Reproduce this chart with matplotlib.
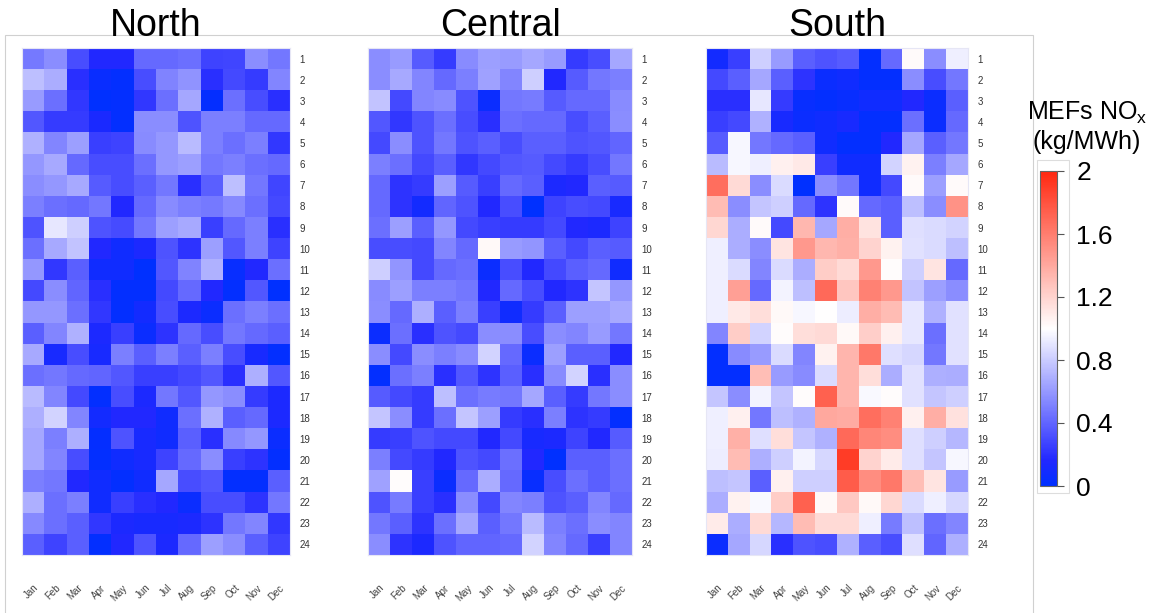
import matplotlib
matplotlib.use("Agg")
import matplotlib.pyplot as plt
from matplotlib.colors import LinearSegmentedColormap
from matplotlib.patches import Rectangle
import numpy as np

months = ["Jan", "Feb", "Mar", "Apr", "May", "Jun", "Jul", "Aug", "Sep", "Oct", "Nov", "Dec"]
hours = [str(h) for h in range(1, 25)]
regions = ["North", "Central", "South"]

north = [
    [0.48, 0.56, 0.31, 0.16, 0.16, 0.42, 0.42, 0.44, 0.27, 0.28, 0.56, 0.47],
    [0.75, 0.68, 0.19, 0.05, 0.02, 0.31, 0.52, 0.58, 0.19, 0.29, 0.24, 0.53],
    [0.61, 0.44, 0.22, 0.00, 0.02, 0.22, 0.44, 0.66, 0.03, 0.44, 0.31, 0.19],
    [0.35, 0.24, 0.24, 0.13, 0.02, 0.56, 0.56, 0.33, 0.50, 0.50, 0.42, 0.42],
    [0.70, 0.53, 0.63, 0.25, 0.27, 0.55, 0.60, 0.74, 0.50, 0.44, 0.50, 0.22],
    [0.60, 0.67, 0.42, 0.31, 0.31, 0.44, 0.60, 0.63, 0.47, 0.50, 0.44, 0.42],
    [0.56, 0.60, 0.67, 0.36, 0.31, 0.38, 0.47, 0.19, 0.38, 0.75, 0.47, 0.28],
    [0.50, 0.44, 0.42, 0.47, 0.16, 0.42, 0.55, 0.50, 0.48, 0.54, 0.44, 0.29],
    [0.33, 0.91, 0.82, 0.33, 0.30, 0.47, 0.63, 0.67, 0.25, 0.42, 0.50, 0.19],
    [0.44, 0.67, 0.77, 0.16, 0.08, 0.14, 0.33, 0.21, 0.63, 0.35, 0.50, 0.27],
    [0.60, 0.22, 0.38, 0.08, 0.08, 0.00, 0.35, 0.52, 0.70, 0.04, 0.16, 0.44],
    [0.29, 0.56, 0.40, 0.19, 0.02, 0.02, 0.29, 0.42, 0.16, 0.02, 0.35, 0.00],
    [0.60, 0.60, 0.44, 0.22, 0.02, 0.10, 0.31, 0.14, 0.06, 0.44, 0.50, 0.44],
    [0.38, 0.53, 0.70, 0.14, 0.25, 0.06, 0.21, 0.42, 0.31, 0.47, 0.42, 0.38],
    [0.67, 0.12, 0.31, 0.12, 0.50, 0.38, 0.50, 0.38, 0.50, 0.31, 0.12, 0.02],
    [0.44, 0.47, 0.42, 0.40, 0.35, 0.25, 0.25, 0.29, 0.35, 0.19, 0.69, 0.35],
    [0.74, 0.53, 0.29, 0.02, 0.31, 0.14, 0.47, 0.35, 0.60, 0.56, 0.24, 0.14],
    [0.69, 0.83, 0.53, 0.10, 0.16, 0.16, 0.08, 0.44, 0.70, 0.38, 0.42, 0.14],
    [0.66, 0.50, 0.69, 0.03, 0.33, 0.12, 0.08, 0.38, 0.19, 0.54, 0.60, 0.06],
    [0.66, 0.53, 0.31, 0.02, 0.08, 0.12, 0.27, 0.42, 0.56, 0.25, 0.21, 0.02],
    [0.50, 0.47, 0.16, 0.08, 0.02, 0.08, 0.66, 0.31, 0.35, 0.02, 0.02, 0.38],
    [0.69, 0.44, 0.50, 0.08, 0.25, 0.19, 0.16, 0.06, 0.31, 0.31, 0.21, 0.47],
    [0.54, 0.44, 0.38, 0.22, 0.14, 0.12, 0.12, 0.14, 0.21, 0.47, 0.53, 0.22],
    [0.38, 0.27, 0.38, 0.02, 0.16, 0.33, 0.14, 0.42, 0.63, 0.56, 0.38, 0.27],
]

central = [
    [0.56, 0.61, 0.36, 0.24, 0.55, 0.63, 0.61, 0.66, 0.61, 0.24, 0.31, 0.66],
    [0.56, 0.67, 0.53, 0.42, 0.50, 0.64, 0.53, 0.82, 0.16, 0.36, 0.47, 0.50],
    [0.77, 0.29, 0.53, 0.55, 0.33, 0.06, 0.47, 0.49, 0.36, 0.42, 0.42, 0.55],
    [0.35, 0.22, 0.33, 0.44, 0.31, 0.19, 0.44, 0.42, 0.42, 0.31, 0.38, 0.56],
    [0.29, 0.56, 0.33, 0.47, 0.33, 0.38, 0.31, 0.38, 0.38, 0.33, 0.35, 0.40],
    [0.50, 0.44, 0.29, 0.38, 0.22, 0.29, 0.35, 0.36, 0.29, 0.24, 0.31, 0.47],
    [0.42, 0.21, 0.24, 0.63, 0.36, 0.25, 0.42, 0.38, 0.14, 0.16, 0.38, 0.36],
    [0.42, 0.21, 0.10, 0.40, 0.33, 0.16, 0.31, 0.00, 0.27, 0.31, 0.29, 0.12],
    [0.44, 0.63, 0.38, 0.60, 0.29, 0.25, 0.24, 0.24, 0.29, 0.16, 0.14, 0.27],
    [0.31, 0.31, 0.29, 0.53, 0.42, 1.03, 0.61, 0.59, 0.38, 0.29, 0.38, 0.36],
    [0.82, 0.59, 0.29, 0.42, 0.44, 0.06, 0.31, 0.16, 0.29, 0.38, 0.42, 0.08],
    [0.55, 0.63, 0.50, 0.50, 0.47, 0.16, 0.42, 0.31, 0.16, 0.21, 0.78, 0.60],
    [0.56, 0.42, 0.69, 0.38, 0.50, 0.25, 0.08, 0.24, 0.38, 0.63, 0.63, 0.67],
    [0.06, 0.44, 0.19, 0.33, 0.29, 0.56, 0.56, 0.31, 0.56, 0.53, 0.61, 0.47],
    [0.56, 0.29, 0.56, 0.50, 0.55, 0.83, 0.42, 0.06, 0.63, 0.38, 0.38, 0.16],
    [0.02, 0.44, 0.50, 0.19, 0.35, 0.21, 0.38, 0.19, 0.55, 0.83, 0.19, 0.56],
    [0.36, 0.29, 0.24, 0.75, 0.44, 0.49, 0.47, 0.66, 0.38, 0.24, 0.47, 0.56],
    [0.78, 0.56, 0.24, 0.44, 0.78, 0.63, 0.24, 0.19, 0.50, 0.21, 0.24, 0.02],
    [0.24, 0.25, 0.33, 0.29, 0.29, 0.16, 0.29, 0.12, 0.14, 0.27, 0.16, 0.36],
    [0.50, 0.29, 0.24, 0.16, 0.33, 0.29, 0.44, 0.16, 0.00, 0.38, 0.38, 0.44],
    [0.64, 1.01, 0.25, 0.06, 0.42, 0.68, 0.42, 0.04, 0.31, 0.44, 0.38, 0.44],
    [0.33, 0.49, 0.25, 0.19, 0.56, 0.29, 0.53, 0.50, 0.33, 0.38, 0.53, 0.42],
    [0.47, 0.38, 0.21, 0.44, 0.66, 0.38, 0.47, 0.74, 0.50, 0.44, 0.56, 0.53],
    [0.56, 0.21, 0.14, 0.33, 0.40, 0.40, 0.42, 0.83, 0.53, 0.42, 0.25, 0.53],
]

south = [
    [0.10, 0.25, 0.82, 0.61, 0.38, 0.33, 0.36, 0.02, 0.42, 1.02, 0.56, 0.94],
    [0.29, 0.38, 0.66, 0.38, 0.21, 0.06, 0.08, 0.02, 0.02, 0.56, 0.31, 0.47],
    [0.19, 0.19, 0.91, 0.24, 0.04, 0.02, 0.04, 0.08, 0.08, 0.16, 0.06, 0.38],
    [0.25, 0.29, 0.70, 0.12, 0.06, 0.08, 0.12, 0.02, 0.02, 0.44, 0.06, 0.42],
    [0.36, 0.97, 0.47, 0.42, 0.38, 0.08, 0.02, 0.02, 0.16, 0.66, 0.38, 0.47],
    [0.74, 0.97, 0.94, 1.07, 1.10, 0.25, 0.08, 0.08, 0.83, 1.06, 0.50, 0.66],
    [1.67, 1.17, 0.56, 0.86, 0.00, 0.56, 0.47, 0.08, 0.29, 1.02, 0.63, 1.02],
    [1.31, 0.56, 0.78, 0.82, 0.42, 0.21, 1.02, 0.42, 0.38, 0.75, 0.56, 1.50],
    [1.18, 0.68, 1.02, 0.29, 1.33, 0.66, 1.37, 1.13, 0.38, 0.88, 0.86, 0.83],
    [0.94, 0.68, 0.56, 1.12, 1.47, 1.33, 1.36, 1.20, 1.06, 0.89, 0.86, 0.75],
    [0.94, 0.86, 0.53, 0.86, 0.68, 1.23, 1.17, 1.47, 1.01, 0.82, 1.12, 0.42],
    [0.94, 1.44, 0.42, 0.96, 0.75, 1.69, 1.26, 1.58, 1.47, 0.77, 0.63, 0.56],
    [0.94, 1.10, 1.15, 1.03, 0.97, 1.00, 0.93, 1.37, 1.31, 0.91, 0.70, 0.89],
    [0.53, 1.23, 0.83, 1.01, 1.15, 1.17, 1.03, 1.22, 1.07, 0.91, 0.44, 0.89],
    [0.02, 0.55, 0.61, 0.86, 0.53, 1.06, 1.34, 1.62, 0.88, 0.85, 0.47, 0.89],
    [0.02, 0.02, 1.30, 0.61, 0.55, 0.86, 1.34, 1.15, 0.68, 0.89, 0.69, 0.68],
    [0.78, 0.56, 0.96, 0.78, 1.01, 1.73, 1.34, 0.98, 1.01, 0.89, 0.78, 0.82],
    [0.94, 1.07, 0.47, 0.75, 0.70, 1.40, 1.39, 1.67, 1.58, 1.07, 1.37, 1.14],
    [0.94, 1.36, 0.88, 1.15, 0.78, 0.70, 1.69, 1.56, 1.53, 0.88, 0.82, 0.72],
    [0.93, 1.31, 0.69, 0.82, 0.96, 0.85, 1.90, 1.20, 1.09, 0.88, 0.78, 0.97],
    [0.75, 0.78, 0.38, 1.07, 0.82, 0.82, 1.75, 1.53, 1.62, 1.30, 1.12, 0.61],
    [0.68, 1.06, 0.98, 1.23, 1.73, 1.03, 1.25, 1.03, 1.18, 0.86, 0.94, 0.85],
    [1.09, 0.68, 1.17, 0.72, 1.31, 1.17, 1.17, 0.94, 0.49, 0.75, 0.44, 0.53],
    [0.06, 0.66, 0.85, 0.19, 0.33, 0.31, 0.70, 0.38, 0.31, 0.88, 0.40, 0.69],
]

# blue side turns violet-ish quickly, white at 1.0, red at 2.0
cmap = LinearSegmentedColormap.from_list(
    "bwr_mef",
    [(0.0, "#0030ff"), (0.08, "#2228ff"), (0.5, "#ffffff"), (1.0, "#ff2810")])
plt.rcParams["font.family"] = ["Liberation Sans", "DejaVu Sans"]

fig = plt.figure(figsize=(11.58, 6.13), dpi=100)

# light frame behind the panels
fig.patches.append(Rectangle((5 / 1158, -0.01), 1028 / 1158, 1 - 35 / 613 + 0.01,
                             transform=fig.transFigure, fill=False,
                             edgecolor="#d0d0d0", linewidth=0.8))

panel_x = [22, 368, 706]
panel_w = [268, 264, 262]
bottom = 1 - 555 / 613
height = 507 / 613

for name, data, px, pw in zip(regions, [north, central, south], panel_x, panel_w):
    ax = fig.add_axes([px / 1158, bottom, pw / 1158, height])
    im = ax.imshow(np.array(data), cmap=cmap, vmin=0, vmax=2, aspect="auto",
                   interpolation="nearest")
    ax.set_xticks(range(12))
    ax.set_xticklabels(months, rotation=45, ha="right", rotation_mode="anchor",
                       fontsize=7, color="#444444")
    ax.set_yticks(range(24))
    ax.set_yticklabels(hours, fontsize=7, color="#333333")
    ax.yaxis.tick_right()
    ax.tick_params(axis="x", length=0, pad=20)
    ax.tick_params(axis="y", length=0, pad=7)
    for s in ax.spines.values():
        s.set_color("#e6e6f5")
        s.set_linewidth(0.8)
    fig.text((px + pw / 2) / 1158, 1 - 36 / 613, name, ha="center", va="baseline",
             fontsize=27)

# colorbar
cax = fig.add_axes([1040 / 1158, 1 - 486 / 613, 17 / 1158, 315 / 613])
cb = fig.colorbar(im, cax=cax, ticks=[0, 0.4, 0.8, 1.2, 1.6, 2])
cb.ax.set_yticklabels(["0", "0.4", "0.8", "1.2", "1.6", "2"])
cb.ax.tick_params(labelsize=19, length=5, width=0.8, color="#555555", pad=9)
cb.outline.set_edgecolor("#666666")
cb.outline.set_linewidth(0.8)
fig.patches.append(Rectangle((1037 / 1158, 1 - 493 / 613), 32 / 1158, 333 / 613,
                             transform=fig.transFigure, fill=False,
                             edgecolor="#dddddd", linewidth=0.8))
fig.text(1087 / 1158, 1 - 127 / 613, "MEFs NO$_\\mathregular{x}$\n(kg/MWh)",
         ha="center", va="center", fontsize=18, linespacing=1.2)

fig.savefig("out.png", dpi=100)
